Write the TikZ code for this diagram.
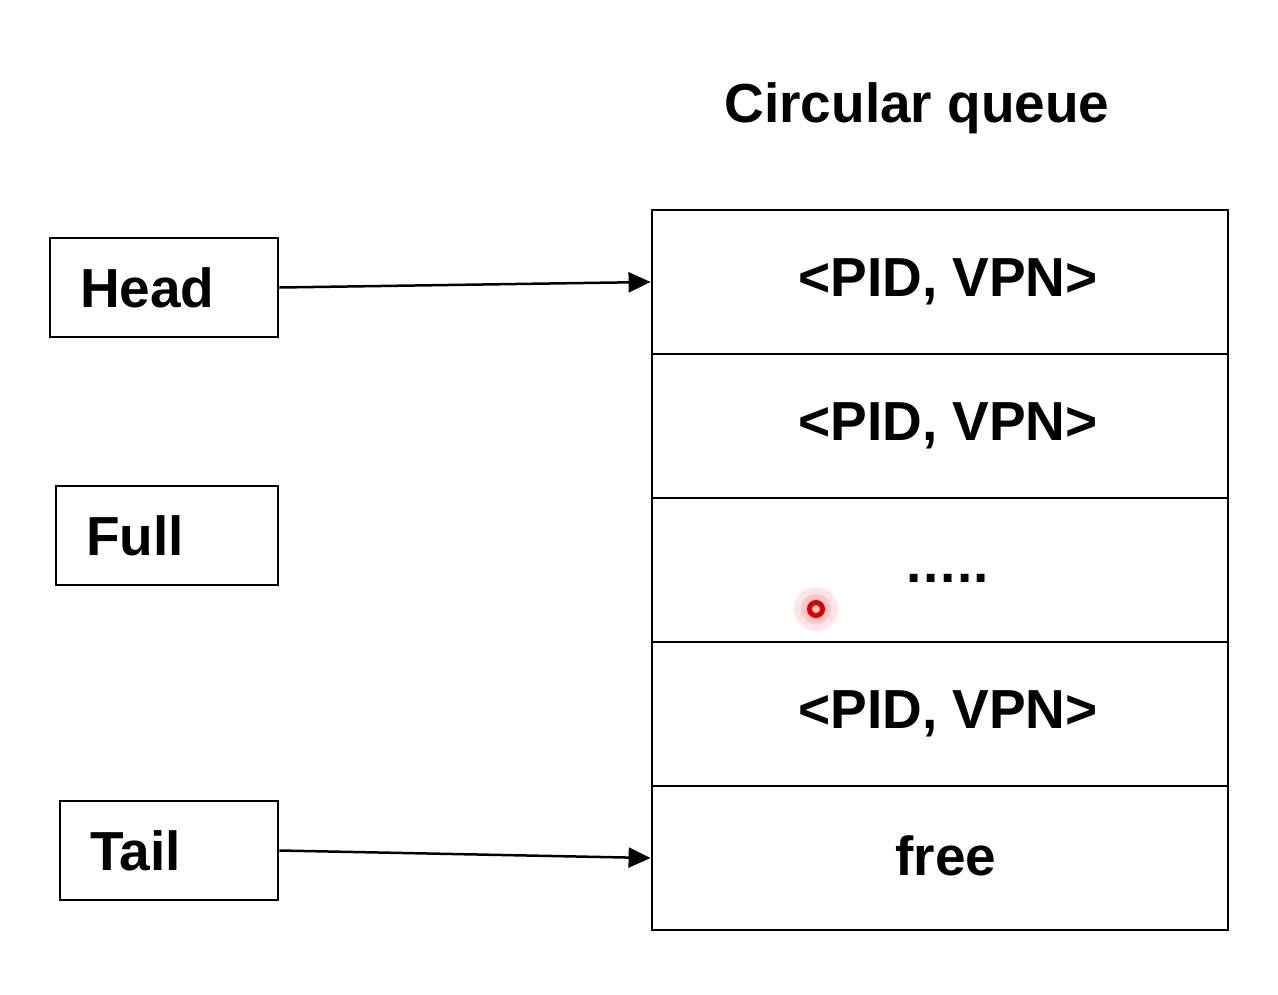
\documentclass[tikz,border=0pt]{standalone}
\usepackage{fontspec}
\setmainfont{Liberation Sans}
\usetikzlibrary{arrows.meta}
\begin{document}
\begin{tikzpicture}[x=1pt,y=-1pt,
  every node/.style={font=\fontsize{55}{66}\selectfont\bfseries},
  lbox/.style={draw, line width=2.8pt, minimum height=99pt, inner ysep=0pt, text width=#1, align=left, inner xsep=30pt},
  qbox/.style={draw, line width=2.8pt, minimum width=576pt, minimum height=144pt, inner sep=0pt},
  arr/.style={line width=2.5pt, -{Triangle[length=22pt,width=20pt]}}]
\useasboundingbox (0,0) rectangle (1278,994);
\node (title) at (917,108) {Circular queue};
\node[qbox] (q1) at (940,282) {\hspace*{16pt}<PID, VPN>};
\node[qbox] (q2) at (940,426) {\hspace*{16pt}<PID, VPN>};
\node[qbox] (q3) at (940,570) {\hspace*{16pt}\raisebox{-12pt}[0pt][0pt]{.\kern1.5pt.\kern1.5pt.\kern1.5pt.\kern1.5pt.}};
\node[qbox] (q4) at (940,714) {\hspace*{16pt}<PID, VPN>};
\node[qbox] (q5) at (940,858) {\hspace*{12pt}\raisebox{4pt}{free}};
\node[lbox=168pt] (head) at (164,287.5) {Head};
\node[lbox=162pt] (full) at (167,535.5) {Full};
\node[lbox=158pt] (tail) at (169,850.5) {Tail};
\draw[arr] (head.east) -- (q1.west);
\draw[arr] (tail.east) -- (q5.west);
\fill[red!10] (816,609) circle (22);
\fill[red!22] (816,609) circle (15);
\draw[red!85!black, line width=5pt] (816,609) circle (6.5);
\end{tikzpicture}
\end{document}
